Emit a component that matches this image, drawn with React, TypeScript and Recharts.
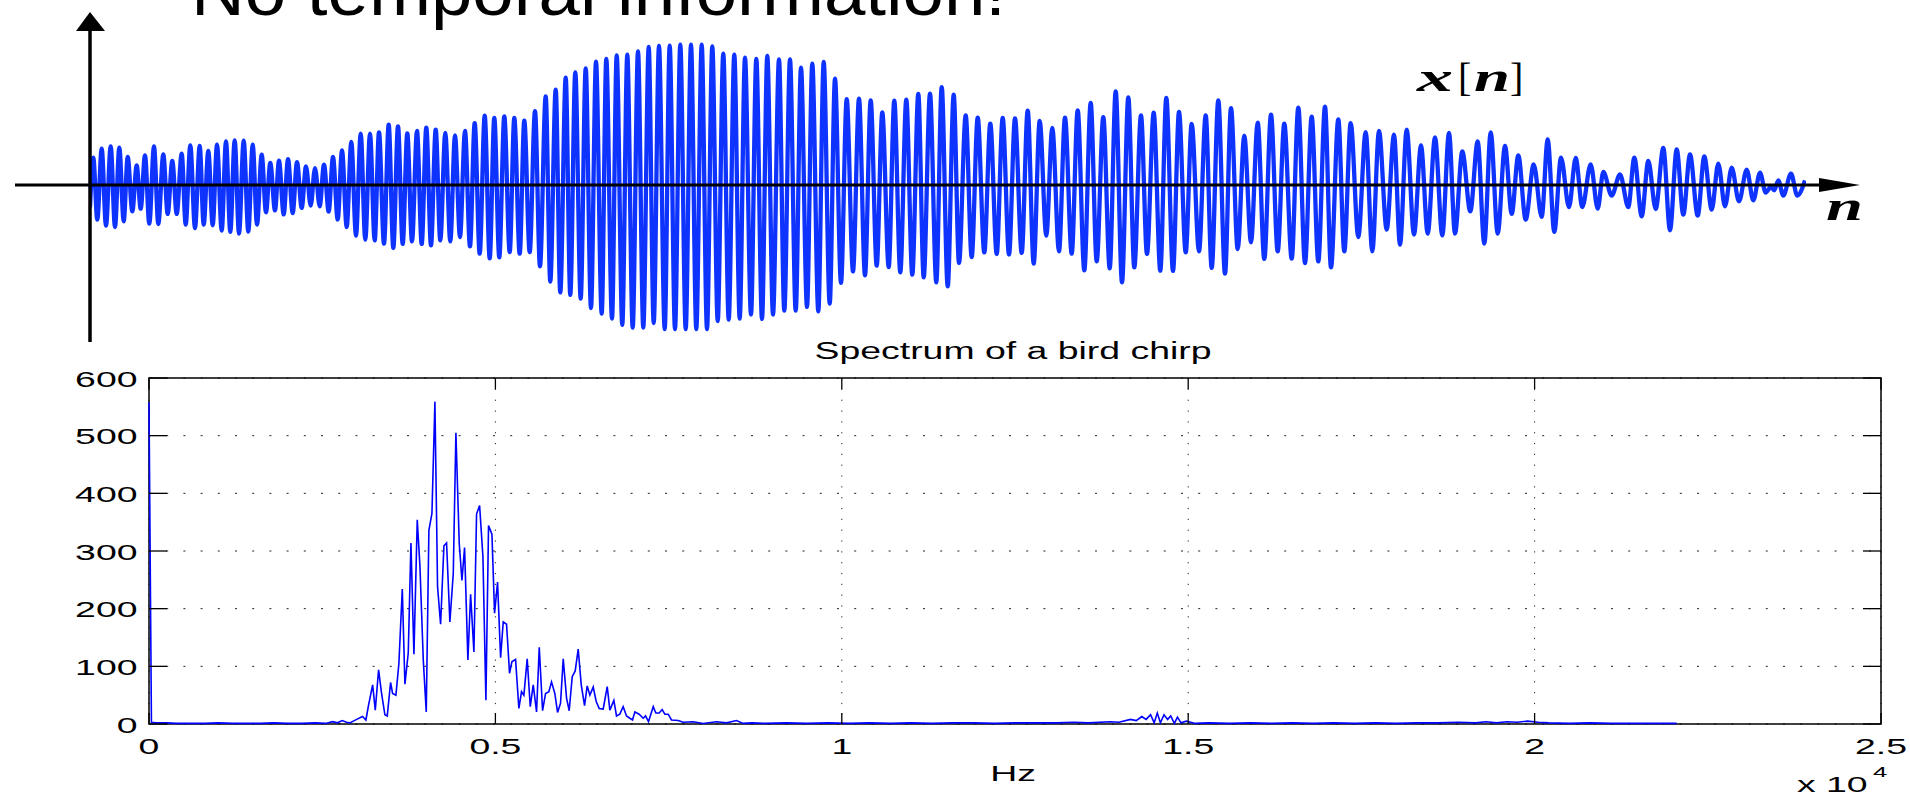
import React from 'react'
import {
  LineChart,
  Line,
  XAxis,
  YAxis,
  CartesianGrid,
  ReferenceArea,
} from 'recharts'

// ---- x[n]: bird chirp waveform, crests and troughs (n in samples) ----
const crestN = [
  3.3, 11.7, 20.7, 29.3, 37.7, 46.7, 55.0, 64.0, 73.3, 82.3, 91.7, 100.3, 109.7, 118.3, 127.0, 136.0,
  144.7, 153.7, 162.7, 171.7, 180.3, 189.0, 198.0, 207.0, 216.0, 225.0, 234.0, 243.0, 252.0, 261.3,
  270.7, 280.0, 289.0, 298.7, 308.0, 317.3, 327.0, 336.3, 345.7, 355.3, 365.0, 375.0, 384.7, 394.7,
  404.3, 414.3,
  424.3, 434.3, 445.0, 455.7, 465.7, 475.7, 485.3, 495.7, 506.0, 516.3, 526.7, 537.3, 548.0, 558.7,
  569.0, 579.7, 590.3, 601.0, 611.7, 622.3, 633.3, 644.3, 655.0, 666.3, 677.3, 689.0, 700.0, 711.0,
  722.3, 733.7, 745.0, 756.7, 769.0, 780.7, 792.3, 804.3, 816.3, 828.3,
  840.0, 851.7, 863.7, 875.7, 887.7, 900.3, 912.7, 925.0, 937.7, 949.7, 962.3, 975.0, 987.7, 1000.7,
  1013.3, 1025.7, 1038.3, 1051.0, 1063.7, 1076.3, 1089.0, 1101.7, 1115.7, 1128.3, 1141.0, 1154.3,
  1167.7, 1181.0, 1194.3, 1208.3, 1221.7, 1235.0, 1248.3,
  1260.7, 1275.7, 1289.0, 1304.0, 1316.7, 1331.0, 1345.0, 1359.0, 1372.3, 1387.7, 1400.7, 1415.0,
  1428.3, 1443.7, 1457.7, 1471.0, 1485.7, 1500.7, 1513.3, 1530.0, 1544.3, 1558.3, 1573.3, 1586.7,
  1600.0, 1614.3, 1628.3, 1641.7, 1656.7, 1670.0, 1680.7, 1688.3, 1701.0, 1715.0,
]
const crestV = [
  0.182, 0.242, 0.258, 0.249, 0.187, 0.131, 0.198, 0.258, 0.204, 0.16, 0.209, 0.264, 0.26, 0.227,
  0.269, 0.291, 0.298, 0.296, 0.269, 0.202, 0.147, 0.162, 0.173, 0.153, 0.124, 0.113, 0.136, 0.187,
  0.231, 0.287, 0.342, 0.342, 0.351, 0.402, 0.391, 0.344, 0.36, 0.382, 0.369, 0.347, 0.331, 0.36,
  0.413, 0.462, 0.447, 0.458,
  0.447, 0.429, 0.493, 0.591, 0.636, 0.716, 0.751, 0.778, 0.822, 0.84, 0.864, 0.869, 0.891, 0.92,
  0.927, 0.929, 0.936, 0.936, 0.936, 0.924, 0.876, 0.869, 0.849, 0.84, 0.86, 0.838, 0.838, 0.782,
  0.809, 0.82, 0.709, 0.573, 0.576, 0.564, 0.484, 0.562, 0.569, 0.607,
  0.609, 0.653, 0.602, 0.464, 0.449, 0.409, 0.447, 0.444, 0.496, 0.427, 0.38, 0.449, 0.498, 0.547,
  0.453, 0.624, 0.584, 0.464, 0.482, 0.58, 0.487, 0.407, 0.464, 0.564, 0.513, 0.329, 0.416, 0.469,
  0.409, 0.516, 0.456, 0.522, 0.438,
  0.413, 0.353, 0.36, 0.336, 0.369, 0.264, 0.318, 0.347, 0.224, 0.291, 0.351, 0.26, 0.198, 0.138,
  0.304, 0.182, 0.18, 0.138, 0.087, 0.071, 0.182, 0.16, 0.247, 0.238, 0.204, 0.191, 0.142, 0.116,
  0.102, 0.082, -0.015, 0.031, 0.076, 0.03,
]
const troughN = [
  0, 7.3, 16.0, 25.0, 33.7, 42.3, 50.7, 59.3, 68.3, 77.7, 86.7, 95.7, 105.0, 113.7, 122.7, 131.7,
  140.3, 149.0, 158.3, 167.0, 176.0, 185.0, 193.7, 202.7, 211.7, 220.7, 229.7, 238.7, 247.7, 256.7,
  266.0, 275.3, 284.7, 294.0, 303.3, 312.7, 322.0, 331.7, 341.0, 350.3, 360.3, 370.0, 380.0, 389.7,
  399.7, 409.3,
  419.7, 429.7, 439.7, 450.0, 460.3, 470.3, 480.3, 490.7, 501.0, 511.7, 522.0, 532.3, 542.7, 553.3,
  563.7, 574.7, 585.0, 595.7, 606.3, 617.0, 627.7, 638.7, 649.7, 661.0, 672.0, 683.0, 694.3, 705.7,
  717.0, 728.3, 739.7, 751.0, 763.0, 775.0, 786.7, 798.7, 810.3, 822.3, 833.7,
  846.3, 857.7, 869.0, 881.7, 894.3, 906.7, 919.0, 931.7, 943.7, 956.3, 969.0, 981.7, 994.3, 1006.7,
  1019.7, 1032.0, 1044.3, 1057.0, 1070.3, 1083.0, 1095.7, 1109.0, 1121.7, 1135.0, 1147.7, 1161.0,
  1174.3, 1187.7, 1201.7, 1215.0, 1228.3, 1241.0, 1254.3,
  1268.3, 1282.3, 1296.7, 1310.0, 1324.0, 1337.7, 1352.3, 1365.0, 1380.3, 1394.3, 1407.7, 1421.7,
  1435.7, 1451.7, 1464.3, 1479.0, 1492.3, 1507.7, 1521.7, 1538.3, 1551.7, 1565.7, 1580.0, 1593.3,
  1607.7, 1621.7, 1635.0, 1649.0, 1663.3, 1675.7, 1684.3, 1693.3, 1707.3,
]
const troughV = [
  -0.15, -0.231, -0.271, -0.28, -0.242, -0.176, -0.158, -0.258, -0.26, -0.193, -0.193, -0.264,
  -0.287, -0.264, -0.269, -0.304, -0.313, -0.324, -0.311, -0.264, -0.182, -0.169, -0.196, -0.187,
  -0.153, -0.138, -0.142, -0.178, -0.231, -0.28, -0.338, -0.364, -0.369, -0.391, -0.42, -0.393,
  -0.376, -0.393, -0.402, -0.369, -0.376, -0.347, -0.409, -0.458, -0.489, -0.482,
  -0.447, -0.458, -0.447, -0.542, -0.644, -0.716, -0.733, -0.758, -0.82, -0.858, -0.891, -0.933,
  -0.951, -0.951, -0.92, -0.96, -0.96, -0.96, -0.96, -0.96, -0.907, -0.898, -0.891, -0.864, -0.893,
  -0.864, -0.838, -0.838, -0.813, -0.842, -0.791, -0.653, -0.576, -0.602, -0.538, -0.547, -0.582,
  -0.598, -0.616,
  -0.649, -0.676, -0.52, -0.48, -0.449, -0.46, -0.464, -0.453, -0.524, -0.338, -0.442, -0.458,
  -0.569, -0.509, -0.556, -0.649, -0.549, -0.46, -0.571, -0.573, -0.449, -0.442, -0.553, -0.591,
  -0.427, -0.382, -0.493, -0.442, -0.491, -0.52, -0.509, -0.549, -0.442,
  -0.347, -0.442, -0.298, -0.398, -0.331, -0.324, -0.336, -0.324, -0.176, -0.391, -0.324, -0.193,
  -0.231, -0.213, -0.313, -0.147, -0.147, -0.158, -0.071, -0.147, -0.209, -0.16, -0.302, -0.198,
  -0.204, -0.164, -0.142, -0.109, -0.102, -0.05, -0.035, -0.071, -0.071,
]

// ---- spectrum (magnitude vs Hz) ----
const lowBandHz = [0, 35, 100, 250, 400, 600, 800, 1000, 1200, 1400, 1600, 1800, 2000, 2200, 2400, 2550, 2650, 2720, 2790, 2850]
const lowBandMag = [558, 3, 2, 2, 1, 1, 1, 2, 1, 1, 1, 2, 1, 1, 2, 1, 4, 2, 6, 3]

const chirpBandHz = [
  2900, 2997, 3083, 3131, 3165, 3228, 3266, 3314, 3357, 3405, 3439, 3487, 3516, 3564, 3607, 3656,
  3694, 3742, 3781, 3824, 3872, 3911, 3959, 4002, 4040, 4084, 4127, 4165, 4209, 4257, 4295, 4343,
  4392, 4430, 4478, 4517, 4555, 4603, 4642, 4690, 4728, 4772, 4820, 4863, 4901, 4950, 4988, 5031,
  5075, 5113, 5161, 5204, 5238, 5291, 5339, 5377, 5411, 5459, 5503, 5546, 5594, 5633, 5681, 5724,
  5772, 5810, 5858, 5897, 5940, 5979, 6027, 6065, 6109, 6152, 6195, 6239, 6287, 6325, 6364, 6412,
  6455, 6498, 6556, 6614, 6652, 6710, 6748, 6796, 6844, 6893, 6941, 6979, 7013, 7075, 7133, 7167,
  7210, 7278, 7316, 7364, 7407, 7446, 7494, 7542, 7638, 7710, 7855, 7999, 8191, 8336, 8480, 8576,
]
const chirpBandMag = [
  2, 8, 13, 7, 30, 68, 24, 94, 53, 16, 14, 72, 53, 50, 105, 234, 69, 123, 314, 121, 354, 273, 111,
  21, 336, 365, 559, 238, 173, 309, 314, 177, 261, 505, 313, 249, 306, 111, 225, 125, 364, 379, 290,
  41, 344, 329, 192, 246, 115, 177, 173, 88, 108, 112, 27, 56, 50, 113, 30, 68, 21, 133, 23, 53, 56,
  73, 53, 20, 36, 113, 45, 23, 82, 92, 130, 68, 32, 66, 50, 64, 39, 27, 26, 65, 24, 41, 14, 17, 30,
  14, 10, 7, 21, 17, 10, 14, 4, 30, 19, 19, 25, 17, 17, 7, 6, 3, 4, 1, 4, 2, 6, 1,
]

const highBandHz = [
  8700, 8900, 9200, 9500, 9800, 10100, 10400, 10700, 11000, 11300, 11600, 11900, 12200, 12500,
  12800, 13100, 13350, 13556, 13877, 14000, 14167, 14250, 14329, 14393, 14457, 14509, 14554, 14599,
  14651, 14703, 14748, 14800, 14845, 14896, 14973, 15101, 15300, 15600, 15900, 16200, 16500, 16800,
  17100, 17400, 17700, 18000, 18300, 18600, 18900, 19150, 19300, 19450, 19600, 19750, 19900, 20050,
  20200, 20500, 20800, 21100, 21400, 21700, 22050,
]
const highBandMag = [
  2, 1, 2, 1, 2, 1, 2, 1, 2, 1, 2, 2, 1, 2, 2, 2, 3, 2, 4, 3, 8, 6, 13, 8, 16, 2, 19, 2, 16, 8, 14,
  1, 12, 2, 5, 1, 2, 1, 2, 1, 2, 1, 2, 1, 2, 1, 2, 2, 3, 2, 4, 2, 4, 3, 5, 3, 2, 1, 2, 1, 1, 1, 1,
]

const hzTicks = [0, 5000, 10000, 15000, 20000, 25000]
const magTicks = [0, 100, 200, 300, 400, 500, 600]

const waveData = [
  ...crestN.map((n, i) => ({ n, x: crestV[i] })),
  ...troughN.map((n, i) => ({ n, x: troughV[i] })),
].sort((a, b) => a.n - b.n)

const specData = [
  ...lowBandHz.map((hz, i) => ({ hz, mag: lowBandMag[i] })),
  ...chirpBandHz.map((hz, i) => ({ hz, mag: chirpBandMag[i] })),
  ...highBandHz.map((hz, i) => ({ hz, mag: highBandMag[i] })),
]

const SANS = '"Liberation Sans", Arial, Helvetica, sans-serif'
const SERIF = '"Liberation Serif", "Times New Roman", serif'
const WAVE_BLUE = '#0f33ff'
// the matlab panel was stretched sideways when pasted into the slide
const SX = 1.7
// spectrum box, in the spectrum chart's own coordinates
const BOX_L = 149
const BOX_R = 1881
const BOX_T = 48
const BOX_B = 394

const SpecYTick = ({ y, payload }: any) => (
  <g>
    <line x1={BOX_L} x2={BOX_L + 18} y1={y} y2={y} stroke="#000" strokeWidth={1.3} />
    <line x1={BOX_R - 18} x2={BOX_R} y1={y} y2={y} stroke="#000" strokeWidth={1.3} />
    <text
      transform={`translate(${BOX_L - 11.5},${y + 8.5}) scale(${SX},1)`}
      textAnchor="end"
      fontSize={22}
      fontFamily={SANS}
      fill="#000"
    >
      {payload.value}
    </text>
  </g>
)

const SpecXTick = ({ x, payload }: any) => (
  <g>
    <line x1={x} x2={x} y1={BOX_B - 11} y2={BOX_B} stroke="#000" strokeWidth={1.3} />
    <line x1={x} x2={x} y1={BOX_T} y2={BOX_T + 11} stroke="#000" strokeWidth={1.3} />
    <text
      transform={`translate(${x},${BOX_B + 30}) scale(${SX},1)`}
      textAnchor="middle"
      fontSize={22}
      fontFamily={SANS}
      fill="#000"
    >
      {payload.value / 10000}
    </text>
  </g>
)

export default function App() {
  return (
    <div
      style={{
        position: 'absolute',
        left: 0,
        top: 0,
        width: 1910,
        height: 796,
        overflow: 'hidden',
        background: '#fff',
      }}
    >
      {/* top: the waveform */}
      <div style={{ position: 'absolute', left: 0, top: 0 }}>
        <LineChart
          width={1910}
          height={370}
          data={waveData}
          margin={{ top: 35, right: 104, bottom: 35, left: 90 }}
        >
          <XAxis dataKey="n" type="number" domain={[0, 1716]} allowDataOverflow hide />
          <YAxis type="number" domain={[-1, 1]} allowDataOverflow hide />
          <Line
            dataKey="x"
            type="monotone"
            stroke={WAVE_BLUE}
            strokeWidth={4.3}
            dot={false}
            isAnimationActive={false}
          />
        </LineChart>
      </div>

      {/* bottom: the spectrum */}
      <div style={{ position: 'absolute', left: 0, top: 330 }}>
        <LineChart
          width={1910}
          height={466}
          data={specData}
          margin={{ top: 48, right: 29, bottom: 42, left: 89 }}
        >
          <CartesianGrid
            horizontal
            vertical={false}
            stroke="#222"
            strokeWidth={1}
            strokeDasharray="2 15.2"
          />
          <CartesianGrid
            horizontal={false}
            vertical
            stroke="#222"
            strokeWidth={1}
            strokeDasharray="1.2 9.63"
          />
          <XAxis
            dataKey="hz"
            type="number"
            domain={[0, 25000]}
            ticks={hzTicks}
            interval={0}
            height={30}
            axisLine={false}
            tickLine={false}
            tick={<SpecXTick />}
          />
          <YAxis
            type="number"
            domain={[0, 600]}
            ticks={magTicks}
            interval={0}
            width={60}
            axisLine={false}
            tickLine={false}
            tick={<SpecYTick />}
          />
          <ReferenceArea
            x1={0}
            x2={25000}
            y1={0}
            y2={600}
            fill="none"
            stroke="#000"
            strokeWidth={1.5}
            ifOverflow="visible"
          />
          <Line
            dataKey="mag"
            type="linear"
            stroke="#0000ff"
            strokeWidth={1.6}
            dot={false}
            isAnimationActive={false}
          />
        </LineChart>
      </div>

      {/* slide decorations: title, arrows, labels */}
      <svg
        width={1910}
        height={796}
        style={{ position: 'absolute', left: 0, top: 0, pointerEvents: 'none' }}
      >
        <text
          x={191}
          y={15}
          fontSize={70}
          fontFamily={SANS}
          fill="#000"
          textLength={815}
          lengthAdjust="spacingAndGlyphs"
        >
          No temporal information!
        </text>

        <line x1={90} x2={90} y1={28} y2={342} stroke="#000" strokeWidth={3.5} />
        <polygon points="90,12 76,31 105,31" fill="#000" />
        <line x1={15} x2={1822} y1={185} y2={185} stroke="#000" strokeWidth={2.8} />
        <polygon points="1860,185 1819,178 1819,192" fill="#000" />

        <text x={1417} y={91} fontSize={39} fontFamily={SERIF} fontWeight="bold" fontStyle="italic"
          textLength={36} lengthAdjust="spacingAndGlyphs">x</text>
        <text x={1458} y={91} fontSize={40} fontFamily={SERIF}>[</text>
        <text x={1474} y={91} fontSize={39} fontFamily={SERIF} fontWeight="bold" fontStyle="italic"
          textLength={36} lengthAdjust="spacingAndGlyphs">n</text>
        <text x={1510} y={91} fontSize={40} fontFamily={SERIF}>]</text>
        <text x={1826} y={220} fontSize={39} fontFamily={SERIF} fontWeight="bold" fontStyle="italic"
          textLength={37} lengthAdjust="spacingAndGlyphs">n</text>

        <text
          x={1013}
          y={359}
          textAnchor="middle"
          fontSize={23}
          fontFamily={SANS}
          fill="#000"
          textLength={397}
          lengthAdjust="spacingAndGlyphs"
        >
          Spectrum of a bird chirp
        </text>
        <text transform={`translate(1013,781) scale(${SX},1)`} textAnchor="middle" fontSize={22} fontFamily={SANS}>
          Hz
        </text>
        <text transform={`translate(1797,792) scale(${SX},1)`} fontSize={22} fontFamily={SANS}>
          x 10
        </text>
        <text transform={`translate(1873,777) scale(${SX},1)`} fontSize={15} fontFamily={SANS}>
          4
        </text>
      </svg>
    </div>
  )
}
